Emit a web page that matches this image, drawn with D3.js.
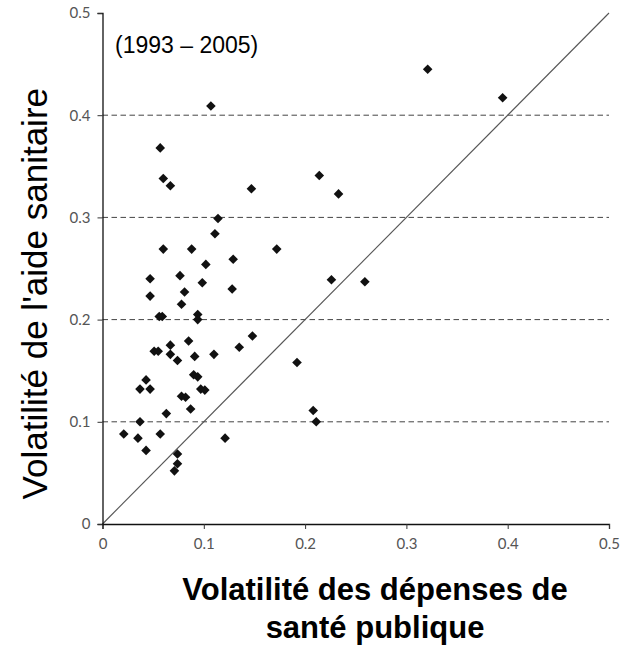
<!DOCTYPE html>
<html>
<head>
<meta charset="utf-8">
<script src="https://cdn.jsdelivr.net/npm/d3@7"></script>
<style>
  body { margin: 0; background: #fff; }
</style>
</head>
<body>
<div id="chart"></div>
<script>
// values
const xVals = [0.107, 0.057, 0.060, 0.067, 0.147, 0.214, 0.233, 0.114, 0.111, 0.060,
               0.088, 0.172, 0.129, 0.102, 0.321, 0.395, 0.047, 0.0765, 0.0985, 0.226,
               0.047, 0.081, 0.128, 0.078, 0.056, 0.059, 0.094, 0.094, 0.085, 0.148,
               0.135, 0.051, 0.055, 0.067, 0.067, 0.091, 0.110, 0.074, 0.192, 0.090,
               0.094, 0.043, 0.037, 0.047, 0.097, 0.101, 0.078, 0.082, 0.087, 0.208,
               0.063, 0.037, 0.211, 0.021, 0.057, 0.035, 0.121, 0.043, 0.074, 0.074,
               0.071, 0.259];
const yVals = [0.409, 0.368, 0.338, 0.331, 0.328, 0.341, 0.323, 0.299, 0.284, 0.269,
               0.269, 0.269, 0.259, 0.254, 0.445, 0.417, 0.240, 0.243, 0.236, 0.239,
               0.223, 0.227, 0.230, 0.215, 0.203, 0.203, 0.205, 0.200, 0.179, 0.184,
               0.173, 0.169, 0.169, 0.175, 0.166, 0.164, 0.166, 0.160, 0.158, 0.146,
               0.144, 0.141, 0.132, 0.132, 0.132, 0.131, 0.125, 0.124, 0.1125, 0.111,
               0.108, 0.100, 0.100, 0.088, 0.088, 0.084, 0.084, 0.072, 0.0685, 0.059,
               0.052, 0.237];
const tickVals = [0, 0.1, 0.2, 0.3, 0.4, 0.5];
const gridVals = [0.1, 0.2, 0.3, 0.4];
const periodLabel = "(1993 – 2005)";
const yLabel = "Volatilité de l'aide sanitaire";
const xLabelLines = ["Volatilité des dépenses de", "santé publique"];

const points = xVals.map((x, i) => ({ x: x, y: yVals[i] }));

const width = 626, height = 645;
const plotLeft = 102.5, plotRight = 609, plotTop = 13, plotBottom = 524;

const svg = d3.select("#chart")
    .append("svg")
    .attr("width", width)
    .attr("height", height);

const x = d3.scaleLinear().domain([0, 0.5]).range([plotLeft, plotRight]);
const y = d3.scaleLinear().domain([0, 0.5]).range([plotBottom, plotTop]);

// dashed gridlines
svg.append("g")
    .selectAll("line")
    .data(gridVals)
    .enter()
    .append("line")
    .attr("x1", x(0))
    .attr("x2", x(0.5))
    .attr("y1", d => y(d))
    .attr("y2", d => y(d))
    .attr("stroke", "#444")
    .attr("stroke-width", 1)
    .attr("stroke-dasharray", "5.5,3.5");

// 45 degree line
svg.append("line")
    .attr("x1", x(0))
    .attr("y1", y(0))
    .attr("x2", x(0.5))
    .attr("y2", y(0.5))
    .attr("stroke", "#555")
    .attr("stroke-width", 1.1);

// axes
const fmt = d => d === 0 ? "0" : d3.format(".1f")(d);
const xAxis = svg.append("g")
    .attr("transform", `translate(0,${plotBottom})`)
    .call(d3.axisBottom(x).tickValues(tickVals).tickSize(5).tickPadding(9).tickFormat(fmt));
const yAxis = svg.append("g")
    .attr("transform", `translate(${plotLeft},0)`)
    .call(d3.axisLeft(y).tickValues(tickVals).tickSize(5).tickPadding(7).tickFormat(fmt));

[xAxis, yAxis].forEach(g => {
    g.select(".domain").attr("stroke", "#111").attr("stroke-width", 1.3);
    g.selectAll(".tick line").attr("stroke", "#333");
    g.selectAll(".tick text")
        .attr("fill", "#555")
        .style("font-family", "Lato, sans-serif")
        .style("font-size", "15px");
});

// points
svg.append("g")
    .selectAll("path")
    .data(points)
    .enter()
    .append("path")
    .attr("d", d3.symbol().type(d3.symbolSquare).size(46))
    .attr("transform", d => `translate(${x(d.x)},${y(d.y)}) rotate(45)`)
    .attr("fill", "#111");

// period label
svg.append("text")
    .attr("x", 115)
    .attr("y", 53)
    .style("font-family", "Arial, 'Liberation Sans', sans-serif")
    .style("font-size", "23px")
    .text(periodLabel);

// y label
svg.append("text")
    .attr("transform", "translate(47,88) rotate(-90)")
    .attr("text-anchor", "end")
    .style("font-family", "Arial, 'Liberation Sans', sans-serif")
    .style("font-size", "35px")
    .text(yLabel);

// x label
svg.append("g")
    .selectAll("text")
    .data(xLabelLines)
    .enter()
    .append("text")
    .attr("x", 375)
    .attr("y", (d, i) => 600 + i * 38)
    .attr("text-anchor", "middle")
    .style("font-family", "Arial, 'Liberation Sans', sans-serif")
    .style("font-size", "31px")
    .style("font-weight", "bold")
    .text(d => d);
</script>
</body>
</html>
